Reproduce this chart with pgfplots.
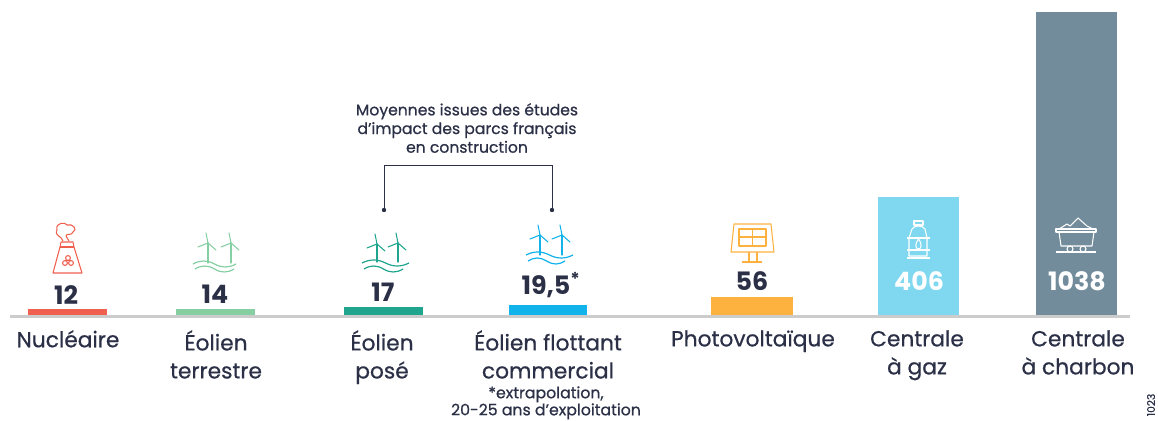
\documentclass[border=0pt]{standalone}
\usepackage{pgfplots}
\pgfplotsset{compat=1.18}
\usepackage{fontspec}
\setmainfont{Poppins}[FakeBold=0.7]
\newfontfamily\numf{Poppins Bold}
\definecolor{ink}{HTML}{2B3047}
\definecolor{cNuc}{HTML}{F0604F}
\definecolor{cTer}{HTML}{86CFA3}
\definecolor{cPos}{HTML}{1FA58E}
\definecolor{cFlo}{HTML}{12B2EA}
\definecolor{cPv}{HTML}{FDB240}
\definecolor{cGaz}{HTML}{7FD8F0}
\definecolor{cCha}{HTML}{728C9C}
\newcommand{\turbine}[4]{% x, hubY, bottomY, colour
  \draw[#4,line width=.8pt,line cap=round] (#1,#2) -- (#1,#3);
  \draw[#4,line width=.8pt,line cap=round] (#1,#2) -- ++(-2,-10) (#1,#2) -- ++(-10,4) (#1,#2) -- ++(8,7);
}
\newcommand{\waves}[5]{% x0, x1, y, colour, width unused
  \draw[#4,line width=.9pt] (#1,#3) .. controls ({#1+(#2-#1)/6},{#3-4}) and ({#1+(#2-#1)/3},{#3-4}) .. ({#1+(#2-#1)/2},#3) .. controls ({#1+2*(#2-#1)/3},{#3+4}) and ({#1+5*(#2-#1)/6},{#3+4}) .. (#2,#3);
}
\begin{document}
\begin{tikzpicture}[x=0.75pt,y=-0.75pt]
\useasboundingbox (0,0) rectangle (1158,421);
\begin{axis}[
  at={(0pt,-237pt)},anchor=south west,
  scale only axis,width=868.5pt,height=237pt,
  xmin=0,xmax=1158,ymin=0,ymax=1078.5,
  axis lines=none,
  clip=true,
  ybar,bar shift=0pt,
  xtick={68,216,382,548,753,917,1078},
  xticklabels={},
]
\addplot[fill=cNuc,draw=cNuc,line width=5pt,bar width=54pt] coordinates {(67.5,12)};
\addplot[fill=cTer,draw=cTer,line width=5pt,bar width=54pt] coordinates {(215.5,14)};
\addplot[fill=cPos,draw=cPos,line width=6pt,bar width=53pt] coordinates {(383.5,17)};
\addplot[fill=cFlo,draw=cFlo,line width=7.5pt,bar width=51pt] coordinates {(547.5,19.5)};
\addplot[fill=cPv,draw=cPv,line width=4pt,bar width=57pt] coordinates {(752,56)};
\addplot[fill=cGaz,draw=none,bar width=61pt] coordinates {(918.5,406)};
\addplot[fill=cCha,draw=none,bar width=61pt] coordinates {(1076.5,1038)};
\end{axis}
\draw[black!20,line width=1.6pt] (10,316.5) -- (1130,316.5);
% category labels
\begin{scope}[every node/.style={text=ink,align=center,anchor=north,font=\fontsize{16.3}{21}\selectfont,inner sep=0pt}]
\node at (68,330) {Nucléaire};
\node at (216,330) {Éolien\\terrestre};
\node at (382,330) {Éolien\\posé};
\node at (548,330) {Éolien flottant\\commercial};
\node at (753,330) {Photovoltaïque};
\node at (917,330) {Centrale\\à gaz};
\node at (1078,330) {Centrale\\à charbon};
\end{scope}
\node[text=ink,align=center,anchor=north,inner sep=0pt,font=\fontsize{11.8}{12.8}\selectfont] at (546,386) {*extrapolation,\\20-25 ans d’exploitation};
\node[text=ink,align=center,inner sep=0pt,font=\fontsize{11.7}{14}\selectfont] at (467,128) {Moyennes issues des études\\d’impact des parcs français\\en construction};
% values
\begin{scope}[every node/.style={inner sep=0pt,font=\numf\fontsize{19}{22}\selectfont,text=ink}]
\node at (66,295) {12};
\node at (215,294) {14};
\node at (383,292) {17};
\node at (551,285) {19,5\textsuperscript{*}};
\node at (752,281) {56};
\node[text=white] at (919,281) {406};
\node[text=white] at (1077,281) {1038};
\end{scope}
% bracket
\draw[ink,line width=.6pt] (384,210) |- (552,165) -- (552,210);
\fill[ink] (384,210) circle (2.2) (552,210) circle (2.2);
% nuclear icon
\begin{scope}[cNuc,line width=.8pt,line join=round]
\draw (61,242) -- (73,242) -- (74,247) -- (82,273) -- (53,273) -- (60,247) -- cycle;
\draw (60,247) -- (74,247);
\draw (63,241) .. controls (62,236) and (54,236) .. (57,230) .. controls (55,222) and (66,222) .. (67,225) .. controls (73,223) and (78,230) .. (73,232) .. controls (72,236) and (66,233) .. (66,236) -- (69,241);
\draw (68,258) circle (2.4) (65,263) circle (2.4) (71,263) circle (2.4);
\end{scope}
% wind
\turbine{208}{243}{263}{cTer}
\turbine{231}{243}{263}{cTer}
\waves{193}{236}{264}{cTer}{}
\waves{195}{234}{269}{cTer}{}
\turbine{377}{244}{262}{cPos}
\turbine{398}{243}{262}{cPos}
\waves{362}{409}{263}{cPos}{}
\waves{364}{403}{269}{cPos}{}
\turbine{540}{235}{255}{cFlo}
\turbine{562}{235}{255}{cFlo}
\waves{526}{573}{255}{cFlo}{}
\waves{528}{565}{261}{cFlo}{}
% solar
\begin{scope}[cPv,line width=.8pt,line join=round]
\draw (734,224) -- (771,224) -- (774,252) -- (731,252) -- cycle;
\draw (739,229) rectangle (766,246);
\draw (739,237) -- (766,237) (752.5,229) -- (752.5,246);
\draw (749,252) -- (749,262) (757,252) -- (757,262) (742,262) -- (762,262);
\end{scope}
% gas
\begin{scope}[white,line width=.8pt,line join=round]
\draw (914,221) rectangle (923,225);
\draw (912,229) .. controls (914,225) and (923,225) .. (925,229) -- (927,238) -- (927,256) -- (909,256) -- (909,238) -- cycle;
\draw (907,258) -- (930,258) (907,238) -- (930,238) (907,250) -- (930,250);
\draw (918.5,239) .. controls (922,243) and (922,249) .. (918.5,249) .. controls (915,249) and (915,243) .. (918.5,239);
\end{scope}
% coal
\begin{scope}[white,line width=.8pt,line join=round]
\draw (1056,229) -- (1096,229) -- (1096,232) -- (1056,232) -- cycle;
\draw (1059,229) -- (1067,224) -- (1070,226) -- (1078,218) -- (1087,226) -- (1093,229);
\draw (1059,232) -- (1061,246) -- (1092,246) -- (1094,232);
\draw (1070,249) circle (3) (1083,249) circle (3);
\draw (1056,252) -- (1096,252);
\end{scope}
\node[rotate=90,text=ink,inner sep=0pt,font=\fontsize{8}{9}\selectfont] at (1151,405) {1023};
\end{tikzpicture}
\end{document}
